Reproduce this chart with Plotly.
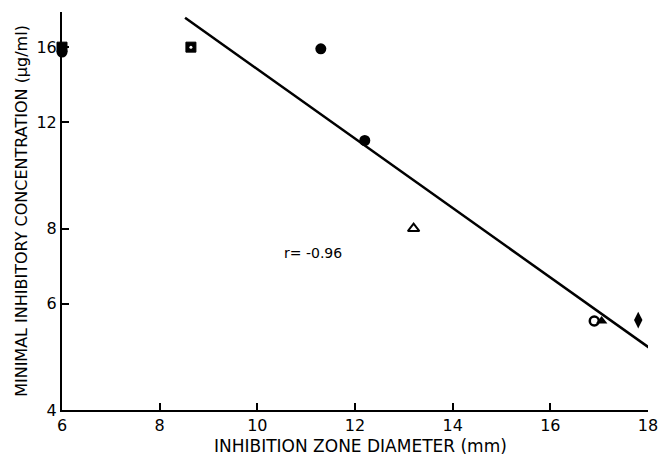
import plotly.graph_objects as go
import math

# Data
sq_x = [6.0, 8.64]
sq_y = [16.0, 16.0]
fc_x = [6.0, 11.3, 12.2]
fc_y = [15.7, 15.9, 11.2]
tri_open_x = [13.2]
tri_open_y = [8.0]
oc_x = [16.9]
oc_y = [5.62]
tri_fill_x = [17.05]
tri_fill_y = [5.62]
dia_x = [17.8]
dia_y = [5.64]
fit_x = [8.52, 18.06]
fit_y = [17.9, 5.05]

x_ticks = [6, 8, 10, 12, 14, 16, 18]
y_ticks = [4, 6, 8, 12, 16]

fig = go.Figure()
fig.add_trace(go.Scatter(x=fit_x, y=fit_y, mode="lines",
                         line=dict(color="black", width=2.5), cliponaxis=False))
fig.add_trace(go.Scatter(x=sq_x, y=sq_y, mode="markers", cliponaxis=False,
                         marker=dict(symbol="square", size=10, color="black",
                                     line=dict(color="black", width=1))))
fig.add_trace(go.Scatter(x=sq_x[1:], y=sq_y[1:], mode="markers", cliponaxis=False,
                         marker=dict(symbol="circle", size=3, color="white")))
fig.add_trace(go.Scatter(x=fc_x, y=fc_y, mode="markers", cliponaxis=False,
                         marker=dict(symbol="circle", size=11, color="black")))
fig.add_trace(go.Scatter(x=tri_open_x, y=tri_open_y, mode="markers", cliponaxis=False,
                         marker=dict(symbol="triangle-up-open", size=10, color="black",
                                     line=dict(color="black", width=2))))
fig.add_trace(go.Scatter(x=oc_x, y=oc_y, mode="markers", cliponaxis=False,
                         marker=dict(symbol="circle-open", size=9, color="black",
                                     line=dict(color="black", width=2.5))))
fig.add_trace(go.Scatter(x=tri_fill_x, y=tri_fill_y, mode="markers", cliponaxis=False,
                         marker=dict(symbol="triangle-up", size=10, color="black")))
fig.add_trace(go.Scatter(x=dia_x, y=dia_y, mode="markers", cliponaxis=False,
                         marker=dict(symbol="diamond-tall", size=12, color="black")))

fig.add_annotation(x=11.13, y=math.log10(7.3), text="r= -0.96", showarrow=False,
                   font=dict(family="DejaVu Sans", size=14, color="black"))
fig.add_annotation(xref="paper", yref="paper", x=0.5102, y=-0.09,
                   xanchor="center", yanchor="middle", showarrow=False,
                   text="INHIBITION ZONE DIAMETER (mm)",
                   font=dict(size=17, family="DejaVu Sans", color="black"))

fig.update_layout(
    width=667, height=458,
    margin=dict(l=62, r=19, t=12, b=48),
    paper_bgcolor="white", plot_bgcolor="white",
    showlegend=False,
    font=dict(family="DejaVu Sans", color="black"),
)
fig.update_xaxes(
    range=[6, 18], tickvals=x_ticks, ticktext=[str(v) for v in x_ticks],
    automargin=False,
    showgrid=False, zeroline=False, showline=True, linecolor="black", linewidth=2,
    ticks="inside", ticklen=7, tickwidth=1.5, tickcolor="black",
    tickfont=dict(size=16, family="DejaVu Sans"),
)
fig.update_yaxes(
    type="log", range=[math.log10(4), math.log10(18.3)],
    tickvals=y_ticks, ticktext=[str(v) for v in y_ticks],
    automargin=False,
    showgrid=False, zeroline=False, showline=True, linecolor="black", linewidth=2,
    ticks="inside", ticklen=7, tickwidth=1.5, tickcolor="black",
    tickfont=dict(size=16, family="DejaVu Sans"),
    title=dict(text="MINIMAL INHIBITORY CONCENTRATION (µg/ml)", standoff=5,
               font=dict(size=16, family="DejaVu Sans")),
)

fig.write_html("out.html", config={"displayModeBar": False},
               post_script="document.body.style.margin='0';")
